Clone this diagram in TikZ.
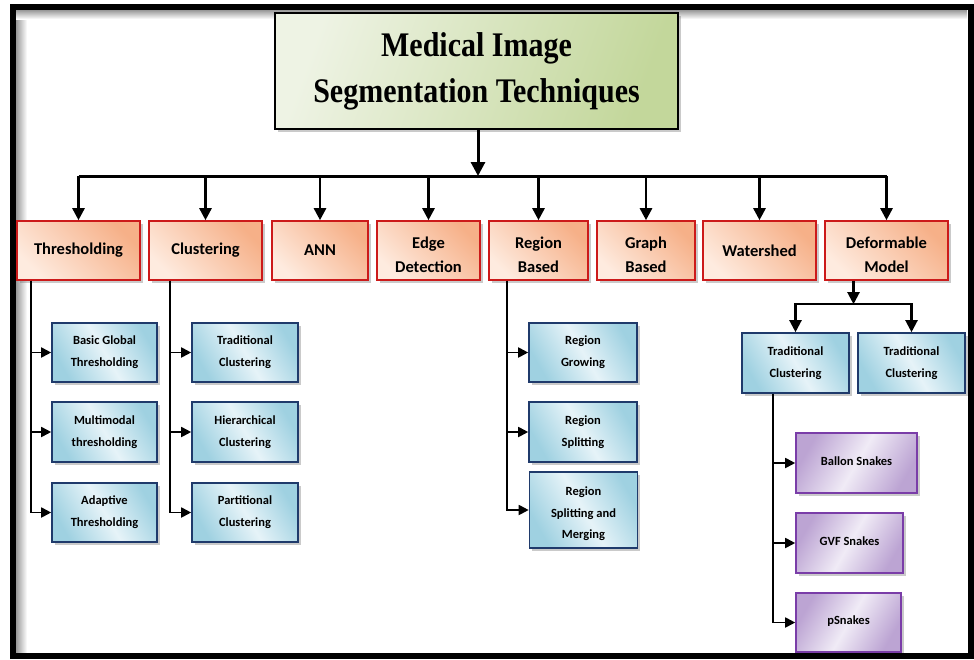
\documentclass[tikz,border=0pt]{standalone}
\usepackage{fontspec}
\usetikzlibrary{arrows.meta,shadows,calc}
\newfontfamily\calibfont{Carlito}
\newfontfamily\timesfont{Liberation Serif}
\definecolor{orDark}{HTML}{F6B088}
\definecolor{orLight}{HTML}{FEEBDF}
\definecolor{orBorder}{HTML}{CC1A1A}
\definecolor{blDark}{HTML}{9FD1E1}
\definecolor{blLight}{HTML}{E6F3F8}
\definecolor{blBorder}{HTML}{1F3A6B}
\definecolor{puDark}{HTML}{BCA4D3}
\definecolor{puLight}{HTML}{F0EBF6}
\definecolor{puBorder}{HTML}{7A3DA8}
\definecolor{grDark}{HTML}{C3D79B}
\definecolor{grLight}{HTML}{EEF3E4}
\newcommand{\dnstrut}[1]{\rule{0pt}{#1}}
\tikzset{
  x=1pt, y=-1pt,
  shd/.style={drop shadow={shadow xshift=2.5pt, shadow yshift=-2.5pt, opacity=0.35, fill=black!60}},
  topbox/.style={draw=black, line width=2pt, shd, left color=grLight, right color=grDark, shading angle=70,
    inner sep=0pt, align=center, font=\timesfont\bfseries\fontsize{30}{46}\selectfont},
  lvlbox/.style={draw=orBorder, line width=1.6pt, shd, top color=orDark, bottom color=orLight, shading angle=-45,
    minimum height=59pt, inner sep=0pt, align=center, font=\calibfont\bfseries\fontsize{16.5}{24}\selectfont},
  bluebox/.style={draw=blBorder, line width=1.6pt, shd, top color=blDark, bottom color=blDark, middle color=blLight, shading angle=-60,
    inner sep=0pt, align=center, font=\calibfont\bfseries\fontsize{12.5}{22}\selectfont},
  purbox/.style={draw=puBorder, line width=1.6pt, shd, top color=puDark, bottom color=puDark, middle color=puLight, shading angle=60,
    inner sep=0pt, text height=9pt, text depth=5pt, align=center, font=\calibfont\bfseries\fontsize{12.5}{22}\selectfont},
  bigarr/.style={line width=3pt, -{Triangle[width=14pt,length=14pt]}},
  midarr/.style={line width=2.6pt, -{Triangle[width=12pt,length=12pt]}},
  busline/.style={line width=3pt},
  subarr/.style={line width=1.8pt, -{Triangle[width=10pt,length=10pt]}},
}
\begin{document}
\begin{tikzpicture}
\useasboundingbox (0,0) rectangle (974,659);
% frame inner shadow
\shade[left color=black!40, right color=white] (16,10) rectangle (27,653);
\shade[top color=black!40, bottom color=white] (16,10) rectangle (967,19);

% top box
\node[topbox, minimum width=403pt, minimum height=116pt] (top) at (476.5,71)
  {\scalebox{1}[1.15]{Medical Image}\\\scalebox{1}[1.15]{Segmentation Techniques}};

% level 1
\node[lvlbox, minimum width=123pt] (thr) at (78.5,250.5) {Thresholding};
\node[lvlbox, minimum width=113pt] (clu) at (205.5,250.5) {Clustering};
\node[lvlbox, minimum width=96pt]  (ann) at (320,250.5) {ANN};
\node[lvlbox, minimum width=103pt] (edg) at (428.5,250.5) {\dnstrut{20pt}Edge\\Detection};
\node[lvlbox, minimum width=99pt]  (reg) at (538.5,250.5) {\dnstrut{20pt}Region\\Based};
\node[lvlbox, minimum width=98pt]  (gra) at (646,250.5) {\dnstrut{20pt}Graph\\Based};
\node[lvlbox, minimum width=113pt] (wat) at (759.5,250.5) {Watershed};
\node[lvlbox, minimum width=123pt] (def) at (886.5,250.5) {\dnstrut{20pt}Deformable\\Model};

% bus
\coordinate (bus) at (478,176);
\draw[bigarr] (top.south -| bus) -- (bus);
\draw[busline] (thr.north |- bus) -- (def.north |- bus);
\foreach \n in {thr,clu,ann,edg,reg,gra,wat,def}
  \draw[midarr] (\n.north |- bus) -- (\n.north);

% thresholding subs
\node[bluebox, minimum width=105pt, minimum height=59pt] (bgt) at (104.5,352.5) {Basic Global\\Thresholding};
\node[bluebox, minimum width=105pt, minimum height=60pt] (mmt) at (104.5,432) {Multimodal\\thresholding};
\node[bluebox, minimum width=105pt, minimum height=59pt] (adt) at (104.5,512.5) {Adaptive\\Thresholding};
\draw[subarr] ([xshift=15pt]thr.south west) |- (bgt.west);
\draw[subarr] ([xshift=15pt]thr.south west) |- (mmt.west);
\draw[subarr] ([xshift=15pt]thr.south west) |- (adt.west);

% clustering subs
\node[bluebox, minimum width=106pt, minimum height=59pt] (trc) at (245,352.5) {Traditional\\Clustering};
\node[bluebox, minimum width=106pt, minimum height=60pt] (hic) at (245,432) {Hierarchical\\Clustering};
\node[bluebox, minimum width=106pt, minimum height=59pt] (pac) at (245,512.5) {Partitional\\Clustering};
\draw[subarr] ([xshift=22pt]clu.south west) |- (trc.west);
\draw[subarr] ([xshift=22pt]clu.south west) |- (hic.west);
\draw[subarr] ([xshift=22pt]clu.south west) |- (pac.west);

% region subs
\node[bluebox, minimum width=108pt, minimum height=59pt] (rgr) at (583,352.5) {Region\\Growing};
\node[bluebox, minimum width=108pt, minimum height=60pt] (rsp) at (583,432) {Region\\Splitting};
\node[bluebox, minimum width=108pt, minimum height=76pt, font=\calibfont\bfseries\fontsize{12.5}{21.5}\selectfont] (rsm) at (583.5,510) {\dnstrut{17pt}Region\\Splitting and\\Merging};
\draw[subarr] ([xshift=19pt]reg.south west) |- (rgr.west);
\draw[subarr] ([xshift=19pt]reg.south west) |- (rsp.west);
\draw[subarr] ([xshift=19pt]reg.south west) |- (rsm.west);

% deformable subs
\node[bluebox, minimum width=107pt, minimum height=60pt] (tc1) at (795.5,363) {Traditional\\Clustering};
\node[bluebox, minimum width=107pt, minimum height=60pt] (tc2) at (911.5,363) {Traditional\\Clustering};
\coordinate (dbus) at ($(tc1.north)!0.5!(tc2.north)+(0,-28)$);
\draw[midarr, line width=2.2pt] (def.south -| dbus) -- (dbus);
\draw[midarr, line width=2.2pt] (dbus) -| (tc1.north);
\draw[midarr, line width=2.2pt] (dbus) -| (tc2.north);

% snakes
\node[purbox, minimum width=121pt, minimum height=60pt] (bsn) at (856.5,463) {Ballon Snakes};
\node[purbox, minimum width=107pt, minimum height=60pt] (gvf) at (849.5,543) {GVF Snakes};
\node[purbox, minimum width=105pt, minimum height=59pt] (psn) at (848.5,622.5) {pSnakes};
\draw[subarr] ([xshift=32pt]tc1.south west) |- (bsn.west);
\draw[subarr] ([xshift=32pt]tc1.south west) |- (gvf.west);
\draw[subarr] ([xshift=32pt]tc1.south west) |- (psn.west);

% frame on top
\draw[line width=6pt] (13,7) rectangle (970.5,656);
\end{tikzpicture}
\end{document}
